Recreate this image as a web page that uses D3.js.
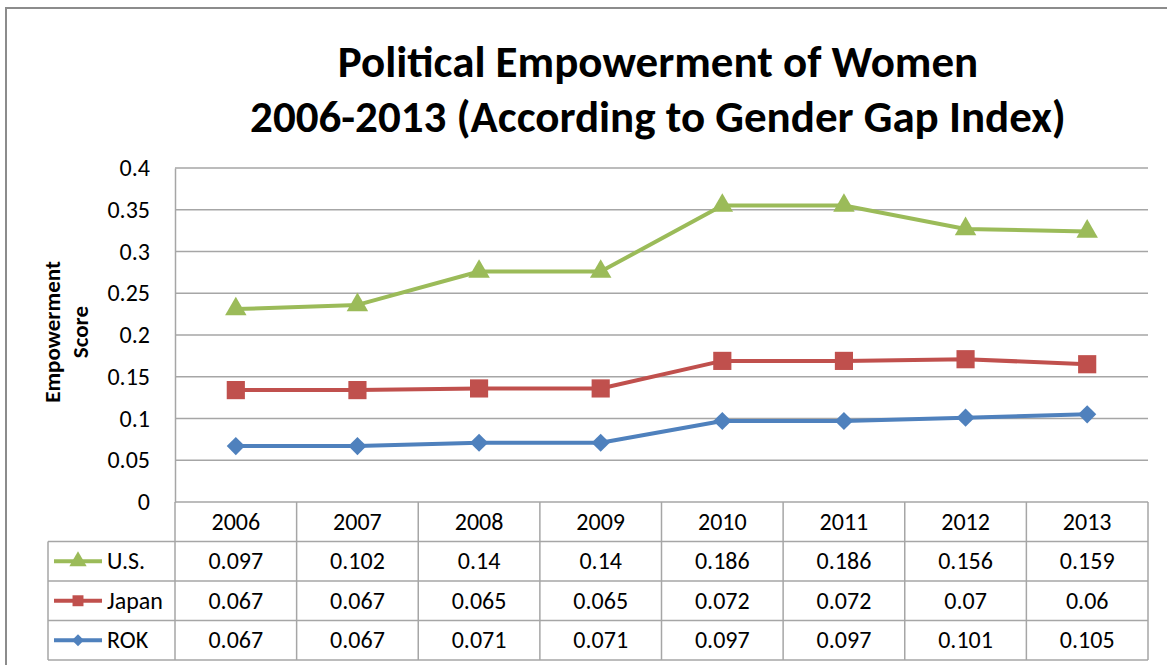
<!DOCTYPE html>
<html>
<head>
<meta charset="utf-8">
<script src="https://cdn.jsdelivr.net/npm/d3@7"></script>
<style>
  body { margin: 0; background: #fff; }
  text { font-family: Carlito, Lato, "Open Sans", sans-serif; fill: #000; }
</style>
</head>
<body>
<div id="chart"></div>
<script>
// data from the table under the chart (stacked line chart)
var years = ["2006", "2007", "2008", "2009", "2010", "2011", "2012", "2013"];
var usValues = [0.097, 0.102, 0.14, 0.14, 0.186, 0.186, 0.156, 0.159];
var japanValues = [0.067, 0.067, 0.065, 0.065, 0.072, 0.072, 0.07, 0.06];
var rokValues = [0.067, 0.067, 0.071, 0.071, 0.097, 0.097, 0.101, 0.105];
var seriesNames = ["U.S.", "Japan", "ROK"];
var seriesColors = ["#9bbb59", "#c0504d", "#4f81bd"];
var seriesMarkers = [d3.symbolTriangle, d3.symbolSquare, d3.symbolDiamond2];
var yTicks = [0, 0.05, 0.1, 0.15, 0.2, 0.25, 0.3, 0.35, 0.4];

var width = 1167, height = 665;
var svg = d3.select("#chart").append("svg")
    .attr("width", width)
    .attr("height", height);

// outer chart frame
svg.append("rect")
    .attr("x", 6).attr("y", 8)
    .attr("width", 1180).attr("height", 700)
    .attr("fill", "#fff")
    .attr("stroke", "#8c8c8c")
    .attr("stroke-width", 2);

var plotLeft = 175, plotRight = 1148, plotTop = 168, plotBottom = 502;
var rowH = 39.5;

var x = d3.scaleBand().domain(years).range([plotLeft, plotRight]);
var y = d3.scaleLinear().domain([0, 0.4]).range([plotBottom, plotTop]);

// marker sizes (area) in the plot and in the legend
var plotMarkerSize = [200, 330, 210];
var legendMarkerSize = [130, 120, 90];

// table rows keyed by series
var rows = {"U.S.": usValues, "Japan": japanValues, "ROK": rokValues};
var table = years.map(function(yr, i) {
    return {year: yr, "U.S.": usValues[i], "Japan": japanValues[i], "ROK": rokValues[i]};
});
var stacked = d3.stack().keys(["ROK", "Japan", "U.S."])(table);

// title
svg.append("text")
    .attr("x", 658).attr("y", 77)
    .attr("text-anchor", "middle")
    .attr("font-size", 45).attr("font-weight", "bold")
    .text("Political Empowerment of Women");
svg.append("text")
    .attr("x", 658).attr("y", 132)
    .attr("text-anchor", "middle")
    .attr("font-size", 45).attr("font-weight", "bold")
    .text("2006-2013 (According to Gender Gap Index)");

// gridlines
svg.append("g").selectAll("line")
    .data(yTicks.filter(function(d) { return d > 0; }))
    .enter().append("line")
    .attr("x1", plotLeft).attr("x2", plotRight)
    .attr("y1", function(d) { return y(d); })
    .attr("y2", function(d) { return y(d); })
    .attr("stroke", "#a6a6a6")
    .attr("stroke-width", 1.5);

// y axis
var yAxis = d3.axisLeft(y).tickValues(yTicks).tickSize(0).tickPadding(25)
    .tickFormat(function(d) { return String(+d.toFixed(2)); });
var gy = svg.append("g").attr("transform", "translate(" + plotLeft + ",0)").call(yAxis);
gy.select(".domain").attr("stroke", "#a6a6a6").attr("stroke-width", 1.5);
gy.selectAll("text").attr("font-size", 24).attr("fill", "#000")
    .style("font-family", "Carlito, Lato, 'Open Sans', sans-serif");

svg.append("text")
    .attr("transform", "translate(60,332) rotate(-90)")
    .attr("text-anchor", "middle")
    .attr("font-size", 23).attr("font-weight", "bold")
    .text("Empowerment");
svg.append("text")
    .attr("transform", "translate(88,332) rotate(-90)")
    .attr("text-anchor", "middle")
    .attr("font-size", 23).attr("font-weight", "bold")
    .text("Score");

// data table grid
var tg = svg.append("g");
var legendLeft = 48;
var tableBottom = plotBottom + rowH * 4;
tg.append("line") // axis line / header top
    .attr("x1", plotLeft).attr("x2", plotRight).attr("y1", plotBottom).attr("y2", plotBottom)
    .attr("stroke", "#a6a6a6").attr("stroke-width", 1.5);
[1, 2, 3, 4].forEach(function(r) {
    tg.append("line")
        .attr("x1", legendLeft).attr("x2", plotRight)
        .attr("y1", plotBottom + rowH * r).attr("y2", plotBottom + rowH * r)
        .attr("stroke", "#a6a6a6").attr("stroke-width", 1.5);
});
tg.append("line")
    .attr("x1", legendLeft).attr("x2", legendLeft)
    .attr("y1", plotBottom + rowH).attr("y2", tableBottom)
    .attr("stroke", "#a6a6a6").attr("stroke-width", 1.5);
tg.selectAll(".col").data(years.concat(["end"]))
    .enter().append("line")
    .attr("x1", function(d, i) { return plotLeft + x.step() * i; })
    .attr("x2", function(d, i) { return plotLeft + x.step() * i; })
    .attr("y1", plotBottom).attr("y2", tableBottom)
    .attr("stroke", "#a6a6a6").attr("stroke-width", 1.5);

// header years
tg.selectAll(".yr").data(years).enter().append("text")
    .attr("x", function(d) { return x(d) + x.bandwidth() / 2; })
    .attr("y", plotBottom + rowH / 2 + 8)
    .attr("text-anchor", "middle")
    .attr("font-size", 24)
    .text(function(d) { return d; });

// rows
seriesNames.forEach(function(name, r) {
    var cy = plotBottom + rowH * (r + 1) + rowH / 2;
    tg.selectAll(".v" + r).data(rows[name]).enter().append("text")
        .attr("x", function(d, i) { return x(years[i]) + x.bandwidth() / 2; })
        .attr("y", cy + 8)
        .attr("text-anchor", "middle")
        .attr("font-size", 24)
        .text(function(d) { return String(d); });
    tg.append("line")
        .attr("x1", 54).attr("x2", 102).attr("y1", cy).attr("y2", cy)
        .attr("stroke", seriesColors[r]).attr("stroke-width", 4);
    tg.append("path")
        .attr("d", d3.symbol().type(seriesMarkers[r]).size(legendMarkerSize[r])())
        .attr("transform", "translate(78," + cy + ")")
        .attr("fill", seriesColors[r]);
    tg.append("text")
        .attr("x", 107).attr("y", cy + 8)
        .attr("font-size", 24)
        .text(name);
});

// stacked lines
var line = d3.line()
    .x(function(d) { return x(d.data.year) + x.bandwidth() / 2; })
    .y(function(d) { return y(d[1]); });

stacked.forEach(function(layer) {
    var idx = seriesNames.indexOf(layer.key);
    svg.append("path")
        .datum(layer)
        .attr("d", line)
        .attr("fill", "none")
        .attr("stroke", seriesColors[idx])
        .attr("stroke-width", 4)
        .attr("stroke-linejoin", "round");
    svg.selectAll(".m" + idx).data(layer).enter().append("path")
        .attr("d", d3.symbol().type(seriesMarkers[idx]).size(plotMarkerSize[idx])())
        .attr("transform", function(d) {
            return "translate(" + (x(d.data.year) + x.bandwidth() / 2) + "," + y(d[1]) + ")";
        })
        .attr("fill", seriesColors[idx]);
});
</script>
</body>
</html>
